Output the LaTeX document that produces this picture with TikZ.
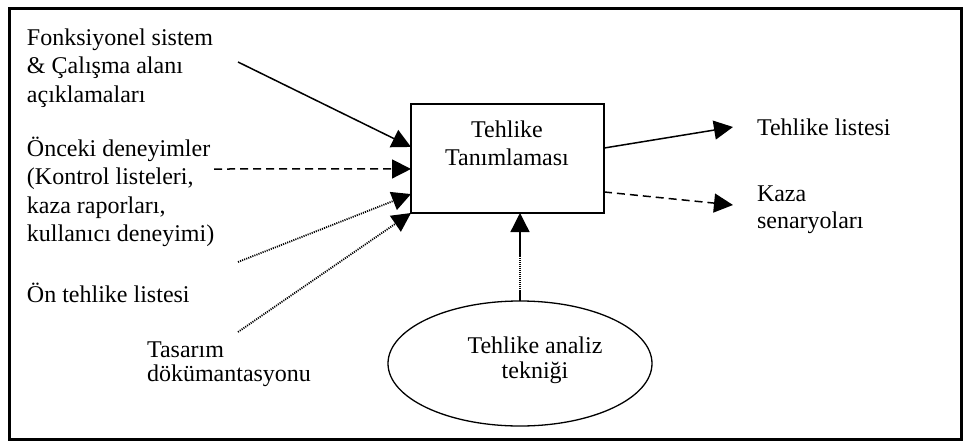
\documentclass[tikz,border=0pt]{standalone}
\usepackage{fontspec}
\setmainfont{Liberation Serif}
\usetikzlibrary{arrows.meta,shapes.geometric,calc}
\begin{document}
\begin{tikzpicture}[x=1pt,y=-1pt,
  every node/.style={font=\fontsize{24}{28.5}\selectfont, inner sep=0pt, outer sep=0pt},
  % multi-line nodes are placed by the baseline of their last line
  txt/.style={align=left, anchor=base west},
  ctxt/.style={align=center, anchor=base},
  proc/.style={draw, line width=1.3pt, minimum width=193pt, minimum height=109pt},
  tech/.style={draw, ellipse, line width=1.3pt, minimum width=264pt, minimum height=125pt},
  tip/.style={-{Triangle[length=19pt,width=19pt]}},
  solidlink/.style={tip, line width=1.5pt},
  dashlink/.style={tip, line width=1.5pt, dash pattern=on 8pt off 5pt},
  dotlink/.style={tip, line width=1.8pt, dash pattern=on 1.1pt off 1.1pt}]
\useasboundingbox (0,0) rectangle (964,442);
% outer frame
\draw[line width=3pt] (9,8) rectangle (961,439);

% central process and the analysis technique
\node[proc] (box) at (507.5,158.5) {};
\node[ctxt, font=\fontsize{24}{28}\selectfont] (boxlabel) at (507,165) {Tehlike\\Tanımlaması};
\node[tech] (ell) at (520,363.5) {};
\node[ctxt, font=\fontsize{24}{25}\selectfont] (elllabel) at (535,378) {Tehlike analiz\\tekniği};

% inputs
\node[txt] (in1) at (27,102) {Fonksiyonel sistem\\\& Çalışma alanı\\açıklamaları};
\node[txt] (in2) at (27,241.5) {Önceki deneyimler\\(Kontrol listeleri,\\kaza raporları,\\kullanıcı deneyimi)};
\node[txt] (in3) at (27,302) {Ön tehlike listesi};
\node[txt, font=\fontsize{24}{24.5}\selectfont] (in4) at (147,381.5) {Tasarım\\dökümantasyonu};

% outputs
\node[txt] (out1) at (757,135) {Tehlike listesi};
\node[txt, font=\fontsize{24}{27}\selectfont] (out2) at (757,228) {Kaza\\senaryoları};

% free ends of the input connectors
\coordinate (s1) at (238,62);
\coordinate (s2) at (214,169);
\coordinate (s3) at (238,262);
\coordinate (s4) at (238,332);
% free ends of the output connectors
\coordinate (e1) at (733,127);
\coordinate (e2) at (733,205);

\draw[solidlink] (s1) -- ($(box.north west)!0.394!(box.south west)$);
\draw[dashlink]  (s2) -- ($(box.north west)!0.596!(box.south west)$);
\draw[dotlink]   (s3) -- ($(box.north west)!0.826!(box.south west)$);
\draw[dotlink]   (s4) -- (box.south west);

\draw[solidlink] ($(box.north east)!0.404!(box.south east)$) -- (e1);
\draw[dashlink]  ($(box.north east)!0.807!(box.south east)$) -- (e2);

% technique feeds the process from below
\draw[solidlink, line width=1.3pt] (ell.north) -- (ell.north |- box.south);
\draw[white, line width=1.5pt, dash pattern=on 1pt off 1pt]
  ($(ell.north)+(0,-11)$) -- ($(ell.north)+(0,-44)$);
\end{tikzpicture}
\end{document}
